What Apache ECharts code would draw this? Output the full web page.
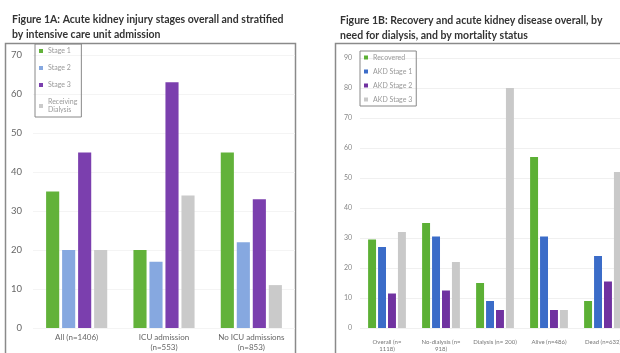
<!DOCTYPE html>
<html><head><meta charset="utf-8">
<script src="https://cdn.jsdelivr.net/npm/echarts@6/dist/echarts.min.js"></script>
<style>html,body{margin:0;padding:0;background:#fff;overflow:hidden;width:620px;height:353px}#c{width:640px;height:353px}</style>
</head><body><div id="c"></div>
<script>
// Figure 1A data
var catsA = ['All (n=1406)', 'ICU admission\n(n=553)', 'No ICU admissions\n(n=853)'];
var namesA = ['Stage 1', 'Stage 2', 'Stage 3', 'Receiving\nDialysis'];
var stage1A = [35, 20, 45];
var stage2A = [20, 17, 22];
var stage3A = [45, 63, 33];
var dialysisA = [20, 34, 11];
var colorsA = ['#62b23a', '#86a8e0', '#7b3fae', '#cacaca'];

// Figure 1B data
var catsB = ['Overall (n=\n1118)', 'No-dialysis (n=\n918)', 'Dialysis (n= 200)', 'Alive (n=486)', 'Dead (n=632)'];
var namesB = ['Recovered', 'AKD Stage 1', 'AKD Stage 2', 'AKD Stage 3'];
var recoveredB = [29.5, 35, 15, 57, 9];
var akd1B = [27, 30.5, 9, 30.5, 24];
var akd2B = [11.5, 12.5, 6, 6, 15.5];
var akd3B = [32, 22, 80, 6, 52];
var colorsB = ['#5cb035', '#3b6cc8', '#7032a0', '#c9c9c9'];

var seriesA = [stage1A, stage2A, stage3A, dialysisA];
var seriesB = [recoveredB, akd1B, akd2B, akd3B];

var chart = echarts.init(document.getElementById('c'));
var series = [];
seriesA.forEach(function (d, i) {
  series.push({type: 'bar', name: namesA[i], xAxisIndex: 0, yAxisIndex: 0, data: d,
    barGap: '22%', barCategoryGap: '30%', itemStyle: {color: colorsA[i]}});
});
seriesB.forEach(function (d, i) {
  series.push({type: 'bar', name: namesB[i], xAxisIndex: 1, yAxisIndex: 1, data: d,
    barGap: '25%', barCategoryGap: '30%', itemStyle: {color: colorsB[i]}});
});

chart.setOption({
  animation: false,
  textStyle: {fontFamily: 'Lato'},
  title: [
    {text: 'Figure 1A: Acute kidney injury stages overall and stratified\nby intensive care unit admission',
     left: 7, top: 7, textStyle: {fontSize: 10.5, fontWeight: 'bold', color: '#333', lineHeight: 15, fontFamily: 'Lato'}},
    {text: 'Figure 1B: Recovery and acute kidney disease overall, by\nneed for dialysis, and by mortality status',
     left: 335, top: 8, textStyle: {fontSize: 10.5, fontWeight: 'bold', color: '#333', lineHeight: 15, fontFamily: 'Lato'}}
  ],
  graphic: [
    {type: 'rect', shape: {x: 5.5, y: 43.5, width: 290, height: 330}, style: {fill: 'none', stroke: '#8a8a8a', lineWidth: 1.5}, z: -1},
    {type: 'rect', shape: {x: 335.5, y: 43.5, width: 320, height: 330}, style: {fill: 'none', stroke: '#8a8a8a', lineWidth: 1.5}, z: -1}
  ],
  legend: [
    {data: namesA, orient: 'vertical', left: 35, top: 44, itemWidth: 4, itemHeight: 4, itemGap: 9,
     padding: [3, 4, 3, 4], borderColor: '#888', borderWidth: 1, icon: 'rect',
     textStyle: {fontSize: 7, color: '#999', lineHeight: 8}},
    {data: namesB, orient: 'vertical', left: 360, top: 51, itemWidth: 4, itemHeight: 4, itemGap: 7,
     padding: [3, 4, 3, 4], borderColor: '#888', borderWidth: 1, icon: 'rect',
     textStyle: {fontSize: 7, color: '#999'}}
  ],
  grid: [
    {left: 33, top: 55, width: 262, bottom: 25},
    {left: 360, top: 58, width: 270, bottom: 25}
  ],
  xAxis: [
    {type: 'category', gridIndex: 0, data: catsA, axisLine: {show: false}, axisTick: {show: false},
     axisLabel: {interval: 0, fontSize: 8, color: '#666', margin: 4, lineHeight: 10}},
    {type: 'category', gridIndex: 1, data: catsB, axisLine: {show: false}, axisTick: {show: false},
     axisLabel: {interval: 0, fontSize: 6, color: '#777', margin: 11, lineHeight: 7}}
  ],
  yAxis: [
    {type: 'value', gridIndex: 0, min: 0, max: 70, interval: 10, axisLine: {show: false}, axisTick: {show: false},
     splitLine: {show: true, lineStyle: {color: '#f4f4f4'}}, axisLabel: {fontSize: 9.5, color: '#666', margin: 11}},
    {type: 'value', gridIndex: 1, min: 0, max: 90, interval: 10, axisLine: {show: false}, axisTick: {show: false},
     splitLine: {show: true, lineStyle: {color: '#f0f0f0'}}, axisLabel: {fontSize: 7, color: '#888', margin: 8}}
  ],
  series: series
});
</script></body></html>
